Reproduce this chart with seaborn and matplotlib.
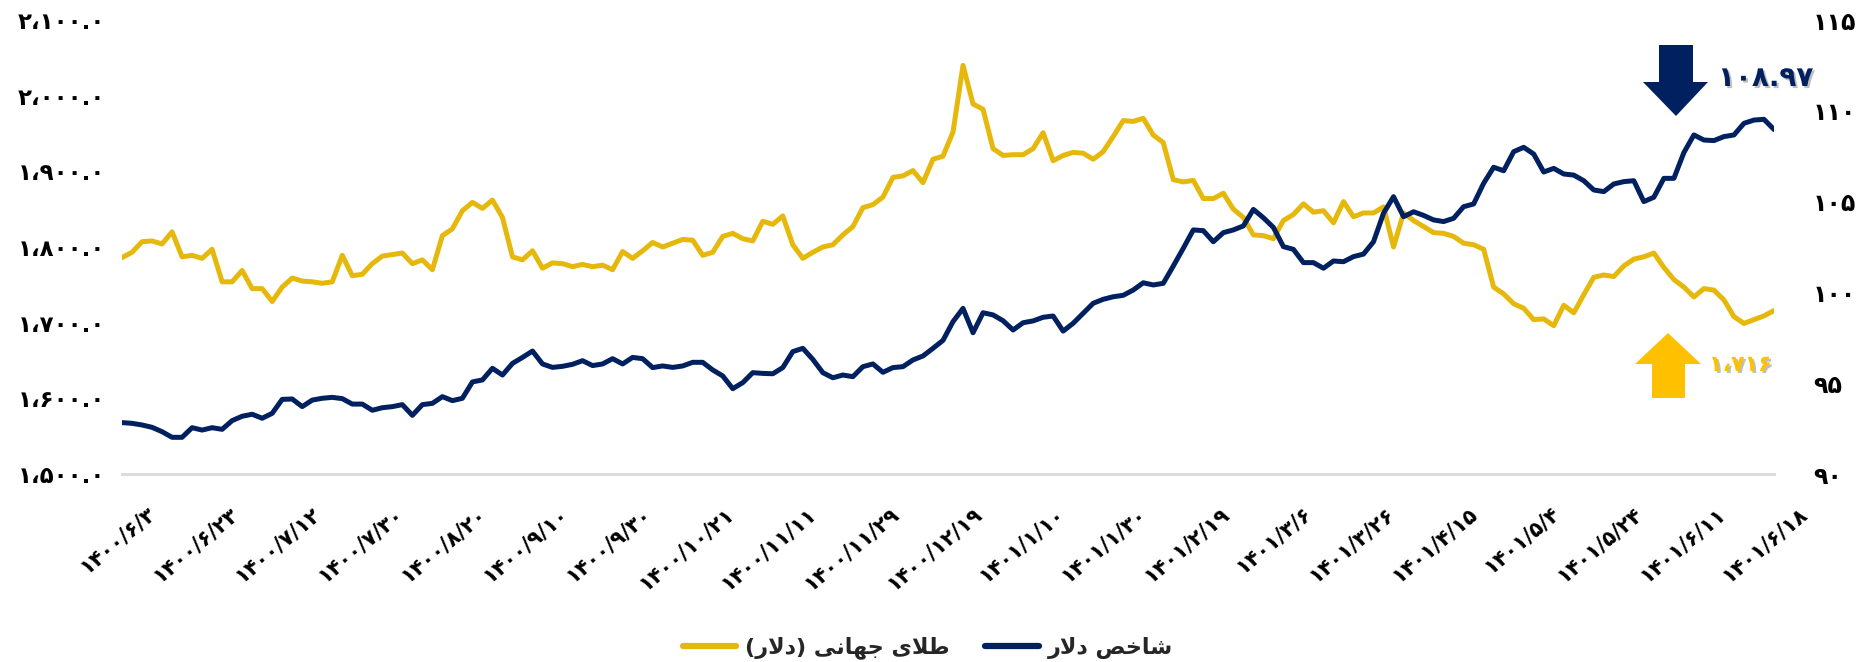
import numpy as np
import pandas as pd
import matplotlib
matplotlib.use('Agg')
import matplotlib.pyplot as plt
import matplotlib.patheffects as pe
from matplotlib.patches import Polygon
from matplotlib.lines import Line2D
from matplotlib.transforms import ScaledTranslation
import seaborn as sns

# world gold price (USD) and dollar index, trading days 1400/6/3 .. 1401/6/18
gold = [1786, 1793, 1807, 1808, 1804, 1820, 1787, 1789, 1785, 1797, 1754, 1754, 1769, 1745, 1745,
        1728, 1747, 1759, 1755, 1754, 1752, 1754, 1789, 1762, 1764, 1778, 1788, 1790, 1792, 1778,
        1783, 1770, 1815, 1824, 1848, 1859, 1851, 1862, 1839, 1787, 1783, 1795, 1772,
        1779, 1778, 1774, 1777, 1774, 1776, 1770, 1794, 1785, 1795, 1806, 1800, 1805, 1810, 1809,
        1789, 1793, 1814, 1818, 1811, 1808, 1834, 1830, 1841, 1803, 1785, 1793, 1800, 1803, 1816,
        1827, 1852, 1856, 1866, 1892, 1894, 1901, 1885, 1916, 1920, 1952, 2040,
        1989, 1982, 1930, 1921, 1922, 1922, 1930, 1951, 1914, 1921, 1925, 1924, 1916, 1926, 1946,
        1967, 1966, 1970, 1948, 1938, 1889, 1886, 1888, 1864, 1864, 1871, 1850, 1839, 1816, 1815,
        1811, 1835, 1843, 1857, 1846, 1848, 1832, 1860, 1840, 1845, 1845, 1853,
        1800, 1845, 1835, 1827, 1819, 1818, 1814, 1805, 1803, 1797, 1747, 1738, 1725, 1719, 1704,
        1705, 1696, 1723, 1713, 1737, 1760, 1763, 1761, 1775, 1784, 1787, 1792, 1773, 1757, 1747,
        1734, 1745, 1743, 1730, 1708, 1699, 1704, 1709, 1716]

dxy = [92.83, 92.79, 92.70, 92.57, 92.33, 92.02, 92.02, 92.55, 92.42, 92.55, 92.46, 92.94, 93.18,
       93.29, 93.07, 93.34, 94.11, 94.13, 93.71, 94.07, 94.17, 94.22, 94.15, 93.85, 93.85, 93.51,
       93.65, 93.71, 93.82, 93.23, 93.82, 93.89, 94.26, 94.04, 94.17, 95.07, 95.18, 95.82, 95.45,
       96.09, 96.42, 96.77, 96.06,
       95.87, 95.93, 96.04, 96.24, 95.97, 96.06, 96.35, 96.06, 96.42, 96.35, 95.86, 95.95, 95.87,
       95.95, 96.15, 96.15, 95.73, 95.40, 94.70, 95.03, 95.58, 95.54, 95.52, 95.86, 96.74, 96.92,
       96.31, 95.58, 95.30, 95.45, 95.36, 95.91, 96.06, 95.60, 95.86, 95.91, 96.28, 96.50, 96.92,
       97.36, 98.39, 99.12,
       97.78, 98.88, 98.76, 98.44, 97.93, 98.33, 98.43, 98.63, 98.70, 97.87, 98.30, 98.85, 99.40,
       99.62, 99.76, 99.84, 100.13, 100.53, 100.41, 100.50, 101.45, 102.43, 103.44, 103.40, 102.79,
       103.29, 103.44, 103.66, 104.57, 104.11, 103.58, 102.52, 102.37, 101.64, 101.64, 101.33,
       101.73, 101.69, 101.97, 102.11, 102.79, 104.36,
       105.27, 104.17, 104.44, 104.24, 103.99, 103.90, 104.08, 104.72, 104.87, 106.01, 106.89,
       106.70, 107.75, 107.99, 107.62, 106.63, 106.83, 106.52, 106.46, 106.15, 105.64, 105.55,
       105.97, 106.10, 106.15, 105.00, 105.24, 106.28, 106.28, 107.70, 108.67, 108.39, 108.36,
       108.58, 108.67, 109.31, 109.49, 109.53, 108.97]

date_labels = ['1400/6/3', '1400/6/23', '1400/7/12', '1400/7/30', '1400/8/20', '1400/9/10',
               '1400/9/30', '1400/10/21', '1400/11/11', '1400/11/29', '1400/12/19', '1401/1/10',
               '1401/1/30', '1401/2/19', '1401/3/6', '1401/3/26', '1401/4/15', '1401/5/4',
               '1401/5/24', '1401/6/11', '1401/6/18']

gold_ticks = [1500, 1600, 1700, 1800, 1900, 2000, 2100]
dxy_ticks = [90, 95, 100, 105, 110, 115]

# legend names: 'طلای جهانی (دلار)' and 'شاخص دلار'
# matplotlib does no arabic shaping, so they are written in presentation forms, visual order
gold_name = '(\ufead\ufefb\ufea9) \ufef0\ufee7\ufe8e\ufeec\ufe9f \ufeef\ufefc\ufec3'
dxy_name = '\ufead\ufefb\ufea9 \ufeba\ufea7\ufe8e\ufeb7'

GOLD = '#E5B80B'
GOLD_ARROW = '#FFC000'
NAVY = '#002060'

FA = str.maketrans('0123456789,', '۰۱۲۳۴۵۶۷۸۹،')


def fa(s):
    return str(s).translate(FA)


sns.set_theme(style='white')
plt.rcParams['font.family'] = ['DejaVu Sans']
plt.rcParams['font.weight'] = 'bold'

W, H = 1865, 662
fig = plt.figure(figsize=(W / 100, H / 100), dpi=100)
ax = fig.add_axes([122 / W, 1 - 474 / H, (1774 - 122) / W, (474 - 20) / H])

df = pd.DataFrame({'day': np.arange(len(gold)), 'gold': gold, 'dxy': dxy})

sns.lineplot(data=df, x='day', y='gold', ax=ax, color=GOLD, lw=3.6, legend=False)
ax.lines[-1].set_solid_joinstyle('round')
ax.set_ylim(1500, 2100)
ax.set_yticks(gold_ticks)
ax.set_yticklabels([fa(f'{v:,.1f}') for v in gold_ticks])
ax.set_xlim(0, len(gold) - 1)
ax.set_xlabel('')
ax.set_ylabel('')

ax2 = ax.twinx()
sns.lineplot(data=df, x='day', y='dxy', ax=ax2, color=NAVY, lw=3.6, legend=False)
ax2.lines[-1].set_solid_joinstyle('round')
ax2.set_ylim(90, 115)
ax2.set_yticks(dxy_ticks)
ax2.set_yticklabels([fa(v) for v in dxy_ticks])
ax2.set_ylabel('')

for a in (ax, ax2):
    for s in a.spines.values():
        s.set_visible(False)
    a.grid(False)
ax.spines['bottom'].set_visible(True)
ax.spines['bottom'].set_color('#D9D9D9')
ax.spines['bottom'].set_linewidth(2)

ax.tick_params(axis='y', length=0, pad=12, labelsize=16.5, colors='black')
ax2.tick_params(axis='y', length=0, pad=28, labelsize=17, colors='black')

ticks = np.linspace(0, len(gold) - 1, len(date_labels))
ax.set_xticks(ticks)
ax.set_xticklabels([fa(d) for d in date_labels], rotation=40, ha='right', va='top',
                   rotation_mode='anchor', fontsize=15, fontweight='bold')
ax.tick_params(axis='x', length=0, pad=21, colors='black')
shift = ScaledTranslation(0.24, 0, fig.dpi_scale_trans)
for lbl in ax.get_xticklabels():
    lbl.set_transform(lbl.get_transform() + shift)

handles = [Line2D([], [], color=GOLD, lw=4.5, solid_capstyle='round'),
           Line2D([], [], color=NAVY, lw=4.5, solid_capstyle='round')]
fig.legend(handles, [gold_name, dxy_name], loc='center', bbox_to_anchor=(0.4976, 0.021),
           ncol=2, frameon=False, prop={'weight': 'bold', 'size': 16},
           handlelength=2.4, handletextpad=0.4, columnspacing=1.6)


def px(x, y):
    return (x / 100, (H - y) / 100)


down = [px(1659, 45), px(1693, 45), px(1693, 82), px(1708, 82), px(1676, 116),
        px(1643, 82), px(1659, 82)]
up = [px(1668, 333), px(1701, 364), px(1685, 364), px(1685, 398), px(1652, 398),
      px(1652, 364), px(1635, 364)]
fig.patches.append(Polygon(down, closed=True, transform=fig.dpi_scale_trans,
                           facecolor=NAVY, edgecolor='none'))
fig.patches.append(Polygon(up, closed=True, transform=fig.dpi_scale_trans,
                           facecolor=GOLD_ARROW, edgecolor='none'))

shadow = [pe.withSimplePatchShadow(offset=(1.5, -1.5), shadow_rgbFace='gray', alpha=0.5)]
fig.text(1718 / W, 1 - 78 / H, fa(f'{dxy[-1]:.2f}'), color=NAVY, fontsize=20,
         fontweight='bold', ha='left', va='center', path_effects=shadow)
fig.text(1709 / W, 1 - 365 / H, fa(f'{gold[-1]:,.0f}'), color=GOLD_ARROW, fontsize=16,
         fontweight='bold', ha='left', va='center', path_effects=shadow)

fig.savefig('out.png', dpi=100)
